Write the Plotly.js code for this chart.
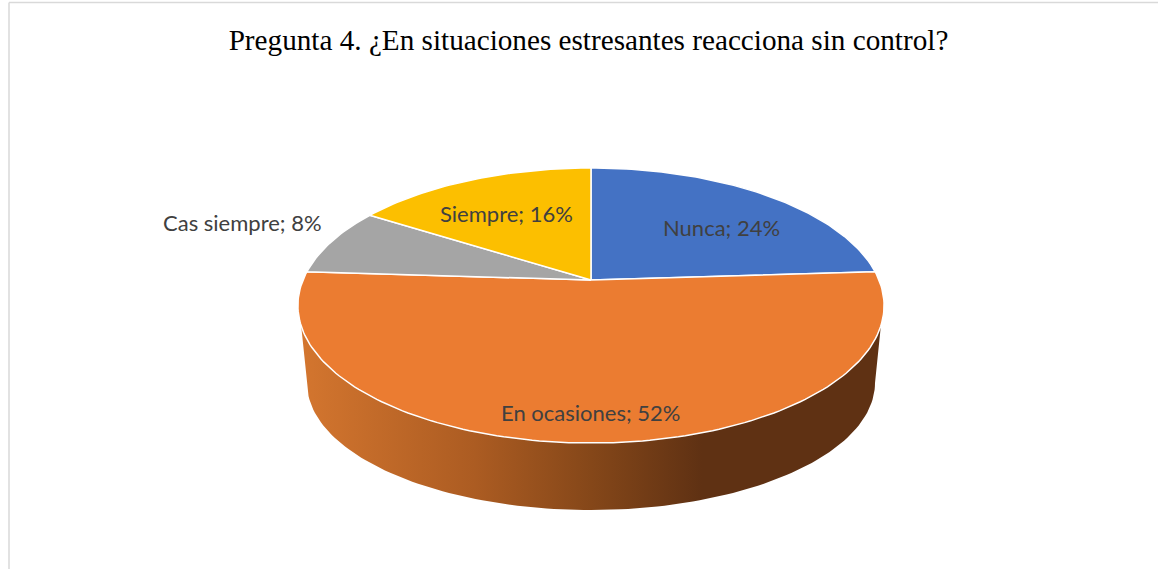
<!DOCTYPE html>
<html>
<head>
<meta charset="utf-8">
<script src="https://cdn.plot.ly/plotly-3.0.1.min.js"></script>
<style>html,body{margin:0;padding:0;background:#fff}#chart{width:1158px;height:569px}</style>
</head>
<body>
<div id="chart"></div>
<script>
const categories = ["Nunca", "En ocasiones", "Cas siempre", "Siempre"];
const percentages = [24, 52, 8, 16];
const sliceColors = ["#4472C4", "#EB7C31", "#A5A5A5", "#FCBF00"];
const titleText = "Pregunta 4. ¿En situaciones estresantes reacciona sin control?";
const labelX = [721, 590, 242.5, 506];
const labelY = [227, 412, 222, 213];

// Perspective projection of the disc's top face onto the page
const cx = 591, cy = 280, scaleX = 288, scaleY = 132.8, tilt = -0.1855;
function project(fraction) {
  const a = fraction * 2 * Math.PI;
  const u = Math.sin(a), v = -Math.cos(a);
  const d = 1 + tilt * v;
  return [cx + scaleX * u / d, cy + scaleY * v / d];
}

const total = percentages.reduce((s, p) => s + p, 0);
const traces = [];

// Side wall of the front slice
const wallX = [299], wallY = [305];
for (let i = 0; i <= 120; i++) {
  const a = Math.PI * i / 120;
  wallX.push(591 - 284 * Math.cos(a));
  wallY.push(383 + 127 * Math.sin(a));
}
wallX.push(883, 299); wallY.push(305, 305);
traces.push({
  type: "scatter", mode: "lines", x: wallX, y: wallY, fill: "toself", hoverinfo: "skip",
  line: {width: 0, color: "rgba(0,0,0,0)"},
  fillgradient: {
    type: "horizontal",
    colorscale: [[0, "#D4762F"], [0.3, "#AC5C22"], [0.5, "#854719"], [0.69, "#5F3113"], [1, "#5F3113"]]
  }
});

// Top face slices
let start = 0;
percentages.forEach((p, i) => {
  const xs = [cx], ys = [cy];
  const steps = Math.max(8, Math.round(p * 3));
  for (let k = 0; k <= steps; k++) {
    const pt = project((start + p * k / steps) / total);
    xs.push(pt[0]); ys.push(pt[1]);
  }
  xs.push(cx); ys.push(cy);
  traces.push({
    type: "scatter", mode: "lines", x: xs, y: ys, fill: "toself", fillcolor: sliceColors[i],
    line: {color: "#FFFFFF", width: 1.5}, name: categories[i],
    hoverinfo: "text", text: categories[i] + "; " + p + "%"
  });
  start += p;
});

const annotations = categories.map((c, i) => ({
  x: labelX[i], y: labelY[i], xref: "x", yref: "y", showarrow: false,
  text: c + "; " + percentages[i] + "%", xanchor: "center", yanchor: "middle",
  font: {family: "Lato, sans-serif", size: 22, color: "#404040"}
}));

const layout = {
  width: 1158, height: 569, margin: {l: 0, r: 0, t: 0, b: 0},
  paper_bgcolor: "#FFFFFF", plot_bgcolor: "#FFFFFF", showlegend: false,
  title: {
    text: titleText, x: 588.5 / 1158, xanchor: "center", y: 1 - 40 / 569, yanchor: "middle",
    font: {family: "'Liberation Serif', serif", size: 29.2, color: "#000000"}
  },
  xaxis: {range: [0, 1158], visible: false, fixedrange: true},
  yaxis: {range: [569, 0], visible: false, fixedrange: true},
  annotations: annotations,
  shapes: [
    {type: "line", xref: "x", yref: "y", x0: 9, x1: 9, y0: 2.5, y1: 569, line: {color: "#D9D9D9", width: 1.5}},
    {type: "line", xref: "x", yref: "y", x0: 9, x1: 1158, y0: 2.5, y1: 2.5, line: {color: "#D9D9D9", width: 1.5}}
  ]
};
Plotly.newPlot("chart", traces, layout, {displayModeBar: false, responsive: false});
</script>
</body>
</html>
